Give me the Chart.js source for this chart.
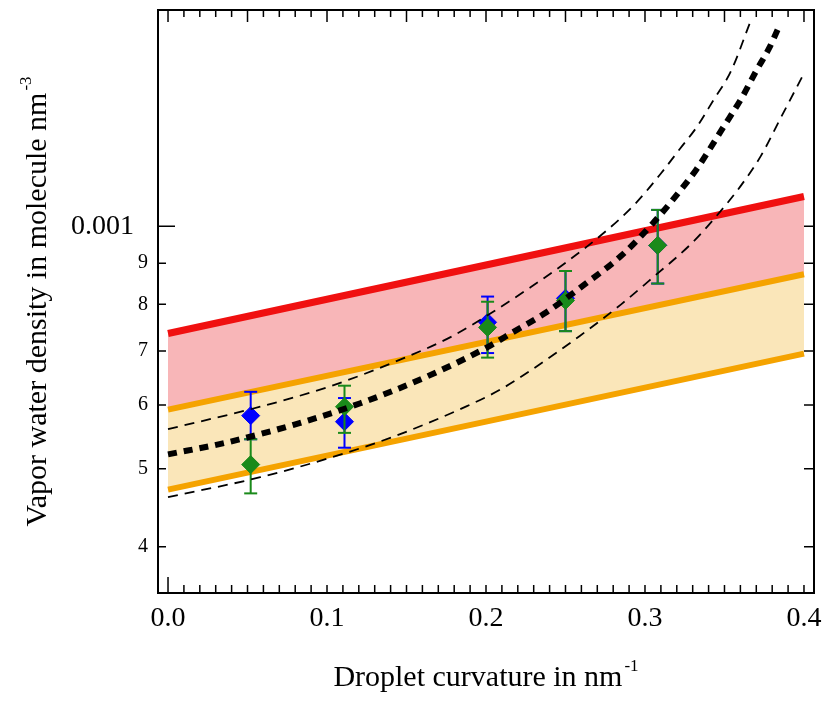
<!DOCTYPE html>
<html>
<head>
<meta charset="utf-8">
<script src="https://cdn.jsdelivr.net/npm/chart.js@4.4.1/dist/chart.umd.min.js"></script>
<style>
  html, body { margin: 0; padding: 0; background: #fff; }
  #wrap { width: 825px; height: 705px; }
</style>
</head>
<body>
<div id="wrap"><canvas id="chart" width="825" height="705"></canvas></div>
<script>
// 坐标轴刻度
const xTicks = [0, 0.1, 0.2, 0.3, 0.4];
const yTicks = [4e-4, 5e-4, 6e-4, 7e-4, 8e-4, 9e-4, 1e-3];

// 彩色带（两端点）
const bandX = [0, 0.4];
const redLine = [7.36e-4, 1.089e-3];
const orangeHigh = [5.92e-4, 8.72e-4];
const orangeLow = [4.71e-4, 6.95e-4];

// 实验点
const pointX = [0.052, 0.111, 0.201, 0.250, 0.308];
const blueY = [5.82e-4, 5.72e-4, 7.60e-4, 8.14e-4, 9.47e-4];
const blueLo = [5.44e-4, 5.31e-4, 6.96e-4, 7.41e-4, 8.49e-4];
const blueHi = [6.23e-4, 6.12e-4, 8.18e-4, 8.80e-4, 1.048e-3];
const greenY = [5.06e-4, 5.97e-4, 7.49e-4, 8.09e-4, 9.47e-4];
const greenLo = [4.66e-4, 5.54e-4, 6.87e-4, 7.41e-4, 8.49e-4];
const greenHi = [5.44e-4, 6.34e-4, 8.06e-4, 8.80e-4, 1.048e-3];

// 黑色虚线曲线
const centerX = [0, 0.037, 0.079, 0.121, 0.163, 0.201, 0.217, 0.238, 0.261, 0.285, 0.305, 0.320, 0.332, 0.338, 0.349, 0.361, 0.370, 0.378, 0.384];
const centerY = [5.21e-4, 5.39e-4, 5.67e-4, 6.03e-4, 6.51e-4, 7.08e-4, 7.39e-4, 7.82e-4, 8.44e-4, 9.19e-4, 1.009e-3, 1.094e-3, 1.174e-3, 1.223e-3, 1.325e-3, 1.445e-3, 1.560e-3, 1.663e-3, 1.765e-3];
const upperX = [0, 0.058, 0.102, 0.146, 0.178, 0.203, 0.228, 0.251, 0.274, 0.293, 0.310, 0.322, 0.333, 0.343, 0.354, 0.366];
const upperY = [5.60e-4, 5.97e-4, 6.33e-4, 6.83e-4, 7.29e-4, 7.80e-4, 8.40e-4, 9.04e-4, 9.81e-4, 1.062e-3, 1.163e-3, 1.248e-3, 1.332e-3, 1.434e-3, 1.557e-3, 1.789e-3];
const lowerX = [0, 0.058, 0.113, 0.146, 0.188, 0.209, 0.228, 0.259, 0.285, 0.305, 0.329, 0.345, 0.360, 0.373, 0.385, 0.399];
const lowerY = [4.61e-4, 4.88e-4, 5.24e-4, 5.52e-4, 5.98e-4, 6.27e-4, 6.62e-4, 7.31e-4, 8.00e-4, 8.64e-4, 9.51e-4, 1.030e-3, 1.121e-3, 1.224e-3, 1.359e-3, 1.535e-3];

const SERIF = '"Liberation Serif", "Times New Roman", serif';

function toXY(xs, ys) {
  return xs.map((x, i) => ({ x: x, y: ys[i] }));
}

// 误差棒：每个点一段竖线，中间用 null 断开
function errorData(xs, lo, hi) {
  const out = [];
  xs.forEach((x, i) => {
    out.push({ x: x, y: lo[i] }, { x: x, y: hi[i] }, { x: x, y: null });
  });
  return out;
}

function bandSet(values, color, width, fill, fillColor, order) {
  return {
    data: toXY(bandX, values),
    borderColor: color,
    borderWidth: width,
    pointRadius: 0,
    fill: fill,
    backgroundColor: fillColor,
    order: order
  };
}

function errorSet(lo, hi, color, order) {
  return {
    data: errorData(pointX, lo, hi),
    borderColor: color,
    borderWidth: 2,
    spanGaps: false,
    pointStyle: 'line',
    pointRadius: 6.5,
    pointBorderWidth: 2,
    pointBorderColor: color,
    fill: false,
    order: order
  };
}

function markerSet(ys, color, order) {
  return {
    data: toXY(pointX, ys),
    showLine: false,
    pointStyle: 'rectRot',
    pointRadius: 9,
    pointBackgroundColor: color,
    pointBorderColor: color,
    pointBorderWidth: 1,
    fill: false,
    order: order
  };
}

function curveSet(xs, ys, width, dash, order) {
  return {
    data: toXY(xs, ys),
    borderColor: '#000',
    borderWidth: width,
    borderDash: dash,
    pointRadius: 0,
    cubicInterpolationMode: 'monotone',
    fill: false,
    order: order
  };
}

// 刻度线、边框和坐标轴标题
const axisDeco = {
  id: 'axisDeco',
  afterDraw(chart) {
    const { ctx, chartArea: a, scales: { x, y } } = chart;
    ctx.save();
    ctx.strokeStyle = '#000';
    ctx.lineWidth = 1.5;
    ctx.beginPath();
    for (let i = 0; i <= 40; i++) {
      const px = x.getPixelForValue(i / 100);
      const lenB = i === 0 ? 16 : 8;
      const lenT = i % 5 === 0 ? 12 : 7;
      ctx.moveTo(px, a.bottom); ctx.lineTo(px, a.bottom - lenB);
      ctx.moveTo(px, a.top); ctx.lineTo(px, a.top + lenT);
    }
    yTicks.forEach(v => {
      const py = y.getPixelForValue(v);
      const lenL = v >= 1e-3 ? 17 : 8;
      ctx.moveTo(a.left, py); ctx.lineTo(a.left + lenL, py);
      ctx.moveTo(a.right, py); ctx.lineTo(a.right - 10, py);
    });
    ctx.stroke();
    ctx.lineWidth = 2;
    ctx.strokeRect(a.left, a.top, a.right - a.left, a.bottom - a.top);

    // 标题（带上标）
    ctx.fillStyle = '#000';
    ctx.textBaseline = 'alphabetic';
    ctx.textAlign = 'left';
    const mainFont = '30px ' + SERIF;
    const supFont = '17px ' + SERIF;

    ctx.font = mainFont;
    const xt = 'Droplet curvature in nm';
    const w1 = ctx.measureText(xt).width;
    ctx.font = supFont;
    const w2 = ctx.measureText('-1').width;
    let sx = (a.left + a.right) / 2 - (w1 + w2 + 2) / 2;
    ctx.font = mainFont;
    ctx.fillText(xt, sx, 686);
    ctx.font = supFont;
    ctx.fillText('-1', sx + w1 + 2, 671);

    ctx.translate(46, (a.top + a.bottom) / 2);
    ctx.rotate(-Math.PI / 2);
    ctx.font = mainFont;
    const yt = 'Vapor water density in molecule nm';
    const h1 = ctx.measureText(yt).width;
    ctx.font = supFont;
    const h2 = ctx.measureText('-3').width;
    const sy = -(h1 + h2 + 2) / 2;
    ctx.font = mainFont;
    ctx.fillText(yt, sy, 0);
    ctx.font = supFont;
    ctx.fillText('-3', sy + h1 + 2, -15);
    ctx.restore();
  }
};

const ctx = document.getElementById('chart');
new Chart(ctx, {
  type: 'line',
  data: {
    datasets: [
      bandSet(redLine, '#f01010', 7, '+1', '#f8b6b8', 10),
      bandSet(orangeHigh, '#f5a300', 6, '+1', '#fae6b9', 9),
      bandSet(orangeLow, '#f5a300', 6, false, 'transparent', 8),
      errorSet(blueLo, blueHi, '#0000ff', 7),
      markerSet(blueY, '#0000ff', 6),
      errorSet(greenLo, greenHi, '#1a8a1a', 5),
      markerSet(greenY, '#1a8a1a', 4),
      curveSet(upperX, upperY, 1.8, [10, 7], 3),
      curveSet(lowerX, lowerY, 1.8, [10, 7], 3),
      curveSet(centerX, centerY, 6, [9, 7], 2)
    ]
  },
  options: {
    responsive: false,
    animation: false,
    layout: { padding: { left: 0, top: 6, right: 11, bottom: 0 } },
    plugins: {
      legend: { display: false },
      tooltip: { enabled: false },
      filler: { drawTime: 'beforeDatasetsDraw' }
    },
    scales: {
      x: {
        type: 'linear',
        min: -0.0063,
        max: 0.4063,
        grid: { display: false },
        border: { display: false },
        afterBuildTicks: scale => { scale.ticks = xTicks.map(v => ({ value: v })); },
        afterFit: scale => {
          scale.height = 112;
          scale.paddingLeft = 0;
          scale.paddingRight = 0;
        },
        ticks: {
          autoSkip: false,
          maxRotation: 0,
          padding: 1,
          color: '#000',
          font: { family: SERIF, size: 28 },
          callback: v => v.toFixed(1)
        }
      },
      y: {
        type: 'logarithmic',
        min: 3.505e-4,
        max: 1.856e-3,
        grid: { display: false },
        border: { display: false },
        afterBuildTicks: scale => { scale.ticks = yTicks.map(v => ({ value: v })); },
        afterFit: scale => {
          scale.width = 158;
          scale.paddingTop = 0;
          scale.paddingBottom = 0;
        },
        ticks: {
          autoSkip: false,
          padding: 2,
          color: '#000',
          font: c => (c.tick && c.tick.value >= 9.9e-4)
            ? { family: SERIF, size: 28 }
            : { family: SERIF, size: 20 },
          callback: v => v >= 9.9e-4 ? '0.001  ' : String(Math.round(v * 1e4))
        }
      }
    }
  },
  plugins: [axisDeco]
});
</script>
</body>
</html>
